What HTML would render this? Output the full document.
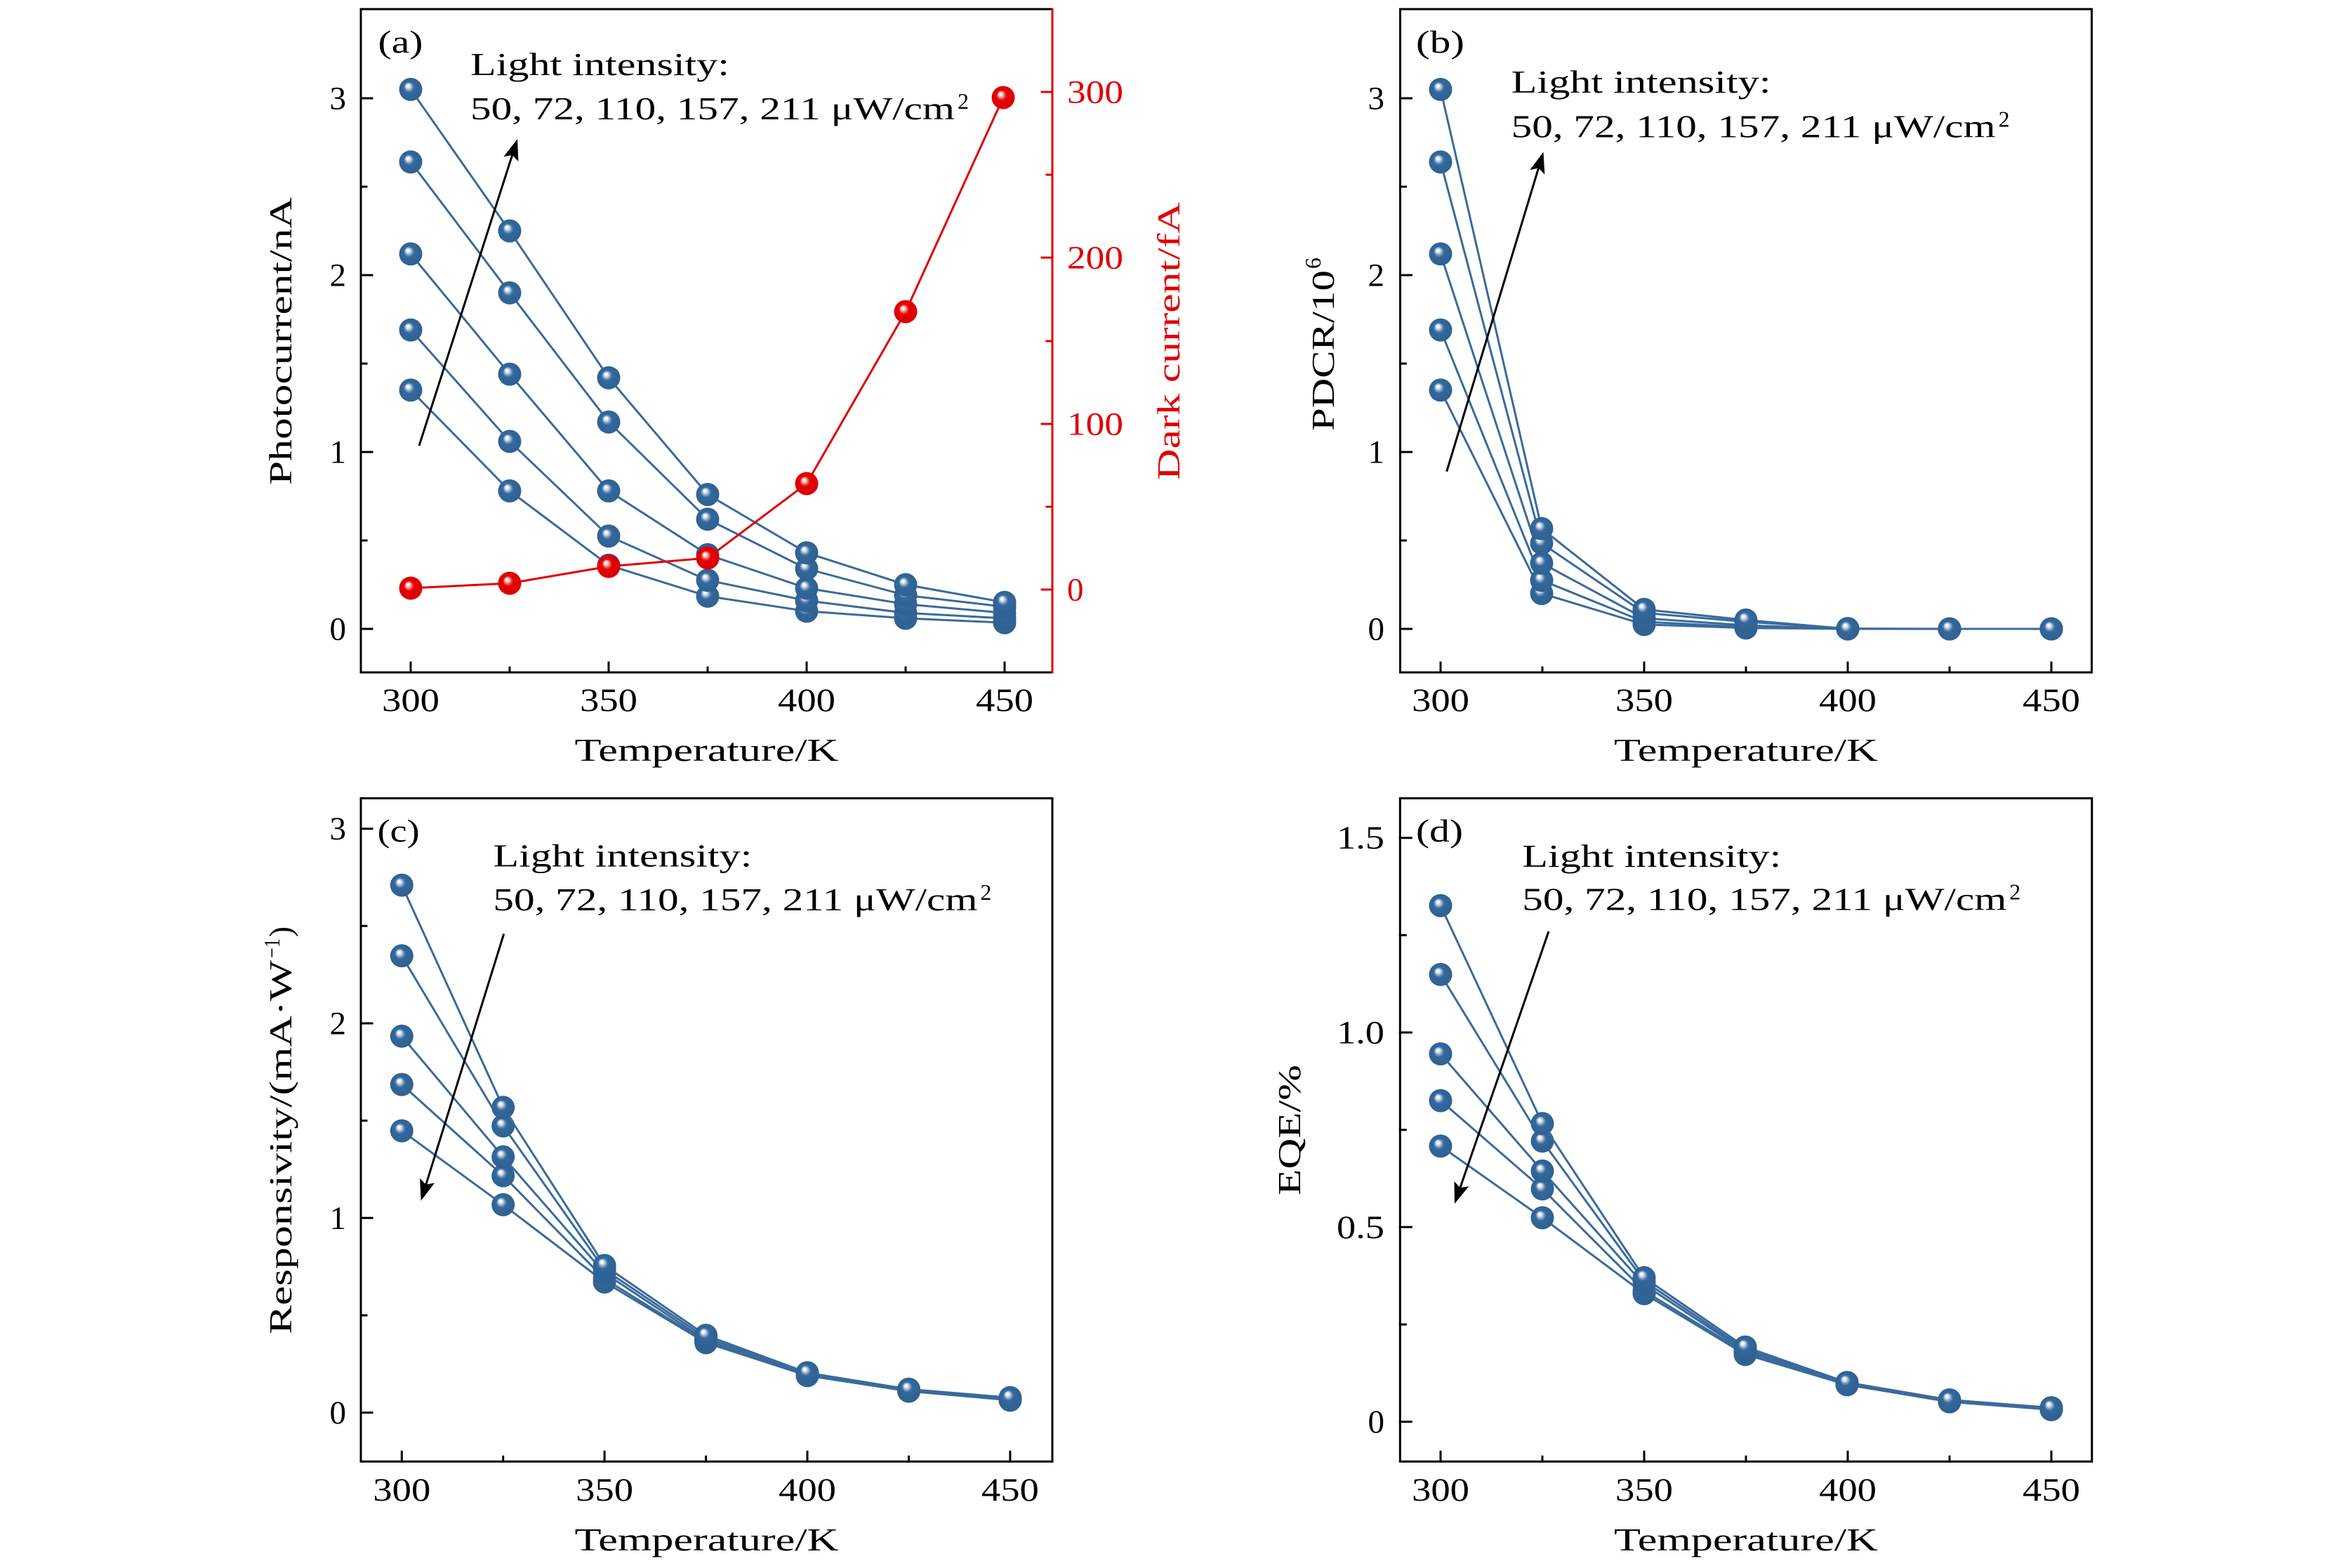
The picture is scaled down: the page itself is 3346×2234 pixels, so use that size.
<!DOCTYPE html>
<html>
<head>
<meta charset="utf-8">
<style>
html,body{margin:0;padding:0;background:#fff;}
svg{display:block;}
text{font-family:"Liberation Serif","DejaVu Serif",serif;}
</style>
</head>
<body>
<svg xmlns="http://www.w3.org/2000/svg" width="3346" height="2234" viewBox="0 0 3346 2234">
<defs>
<radialGradient id="gb" cx="0.5" cy="0.5" r="0.5" fx="0.37" fy="0.33">
<stop offset="0" stop-color="#ffffff"/>
<stop offset="0.1" stop-color="#f4f7fb"/>
<stop offset="0.22" stop-color="#bccfe3"/>
<stop offset="0.34" stop-color="#6f94ba"/>
<stop offset="0.46" stop-color="#34689b"/>
<stop offset="1" stop-color="#2f6193"/>
</radialGradient>
<radialGradient id="gr" cx="0.5" cy="0.5" r="0.5" fx="0.37" fy="0.33">
<stop offset="0" stop-color="#ffffff"/>
<stop offset="0.1" stop-color="#fde8e8"/>
<stop offset="0.22" stop-color="#f5a6a6"/>
<stop offset="0.34" stop-color="#ec4444"/>
<stop offset="0.46" stop-color="#e40000"/>
<stop offset="1" stop-color="#dc0000"/>
</radialGradient>
<marker id="mb" markerUnits="userSpaceOnUse" markerWidth="40" markerHeight="40" refX="20" refY="20" overflow="visible"><circle cx="20" cy="20" r="16.5" fill="url(#gb)"/></marker>
<marker id="mr" markerUnits="userSpaceOnUse" markerWidth="40" markerHeight="40" refX="20" refY="20" overflow="visible"><circle cx="20" cy="20" r="16.5" fill="url(#gr)"/></marker>
<marker id="ah" markerUnits="userSpaceOnUse" markerWidth="40" markerHeight="30" refX="8" refY="12" orient="auto" overflow="visible"><path d="M0,1 L30,12 L0,23 L6,12 Z" fill="#000"/></marker>
</defs>

<!-- ================= Panel (a) ================= -->
<g fill="none" stroke-linejoin="round">
<polyline stroke="#3a6a9c" stroke-width="3" marker-start="url(#mb)" marker-mid="url(#mb)" marker-end="url(#mb)" points="585,555.8 726,699.4 867,805.3 1008,849.4 1149,870.8 1290,880.9 1431,887.2"/>
<polyline stroke="#3a6a9c" stroke-width="3" marker-start="url(#mb)" marker-mid="url(#mb)" marker-end="url(#mb)" points="585,470.1 726,628.9 867,763.7 1008,826.7 1149,855.7 1290,873.3 1431,880.9"/>
<polyline stroke="#3a6a9c" stroke-width="3" marker-start="url(#mb)" marker-mid="url(#mb)" marker-end="url(#mb)" points="585,361.8 726,533.1 867,699.4 1008,790.2 1149,838 1290,860.7 1431,873.3"/>
<polyline stroke="#3a6a9c" stroke-width="3" marker-start="url(#mb)" marker-mid="url(#mb)" marker-end="url(#mb)" points="585,230.7 726,417.2 867,601.2 1008,739.8 1149,810.3 1290,848.1 1431,864.5"/>
<polyline stroke="#3a6a9c" stroke-width="3" marker-start="url(#mb)" marker-mid="url(#mb)" marker-end="url(#mb)" points="585,127.4 726,329 867,538.2 1008,704.5 1149,787.6 1290,833 1431,858.2"/>
<polyline stroke="#e00000" stroke-width="3" marker-start="url(#mr)" marker-mid="url(#mr)" marker-end="url(#mr)" points="585,838 726,831 867,807 1008,795 1149,689 1290,444 1429,139"/>
</g>
<!-- axes a -->
<g stroke="#000" stroke-width="3" fill="none" stroke-linecap="square">
<path d="M1499,13 H514 V958 H1499"/>
<path d="M514,896h16 M514,644h16 M514,392h16 M514,140h16 M514,770h8 M514,518h8 M514,266h8"/>
<path d="M585,958v-14 M867,958v-14 M1149,958v-14 M1431,958v-14 M726,958v-7 M1008,958v-7 M1290,958v-7"/>
</g>
<g stroke="#e00000" stroke-width="3" fill="none" stroke-linecap="square">
<path d="M1499,13 V958"/>
<path d="M1499,840h-15 M1499,604h-15 M1499,367h-15 M1499,131h-15 M1499,722h-8 M1499,486h-8 M1499,249h-8"/>
</g>
<line x1="597" y1="635" x2="730.3" y2="219" stroke="#000" stroke-width="3" marker-end="url(#ah)"/>
<g font-size="47" fill="#000">
<text x="493" y="911.5" text-anchor="end">0</text>
<text x="493" y="659.5" text-anchor="end">1</text>
<text x="493" y="407.5" text-anchor="end">2</text>
<text x="493" y="155.5" text-anchor="end">3</text>
<text x="585" y="1013" text-anchor="middle" textLength="82" lengthAdjust="spacingAndGlyphs">300</text>
<text x="867" y="1013" text-anchor="middle" textLength="82" lengthAdjust="spacingAndGlyphs">350</text>
<text x="1149" y="1013" text-anchor="middle" textLength="82" lengthAdjust="spacingAndGlyphs">400</text>
<text x="1431" y="1013" text-anchor="middle" textLength="82" lengthAdjust="spacingAndGlyphs">450</text>
</g>
<g font-size="47" fill="#e00000">
<text x="1520" y="855.5">0</text>
<text x="1520" y="619.5" textLength="80" lengthAdjust="spacingAndGlyphs">100</text>
<text x="1520" y="382.5" textLength="80" lengthAdjust="spacingAndGlyphs">200</text>
<text x="1520" y="146.5" textLength="80" lengthAdjust="spacingAndGlyphs">300</text>
</g>
<g font-size="46" fill="#000">
<text x="538.5" y="75" textLength="64" lengthAdjust="spacingAndGlyphs">(a)</text>
<text x="670" y="107" textLength="369" lengthAdjust="spacingAndGlyphs">Light intensity:</text>
<text x="670" y="170" textLength="690" lengthAdjust="spacingAndGlyphs">50, 72, 110, 157, 211 μW/cm</text>
<text x="1364" y="155" font-size="32">2</text>
<text x="1006.5" y="1084" text-anchor="middle" textLength="376" lengthAdjust="spacingAndGlyphs">Temperature/K</text>
<text transform="translate(415,486) rotate(-90)" text-anchor="middle" textLength="410" lengthAdjust="spacingAndGlyphs">Photocurrent/nA</text>
<text transform="translate(1680,486) rotate(-90)" text-anchor="middle" textLength="396" lengthAdjust="spacingAndGlyphs" fill="#e00000">Dark current/fA</text>
</g>

<!-- ================= Panel (b) ================= -->
<g fill="none" stroke-linejoin="round">
<polyline stroke="#3a6a9c" stroke-width="3" marker-start="url(#mb)" marker-mid="url(#mb)" marker-end="url(#mb)" points="2052,555.8 2196,845.6 2342,889.7 2487,894.7 2632,896 2777,896 2922,896"/>
<polyline stroke="#3a6a9c" stroke-width="3" marker-start="url(#mb)" marker-mid="url(#mb)" marker-end="url(#mb)" points="2052,470.1 2196,826.7 2342,885.9 2487,893.5 2632,896 2777,896 2922,896"/>
<polyline stroke="#3a6a9c" stroke-width="3" marker-start="url(#mb)" marker-mid="url(#mb)" marker-end="url(#mb)" points="2052,361.8 2196,802.3 2342,880.9 2487,891 2632,896 2777,896 2922,896"/>
<polyline stroke="#3a6a9c" stroke-width="3" marker-start="url(#mb)" marker-mid="url(#mb)" marker-end="url(#mb)" points="2052,230.7 2196,774 2342,873.3 2487,885.9 2632,895.5 2777,896 2922,896"/>
<polyline stroke="#3a6a9c" stroke-width="3" marker-start="url(#mb)" marker-mid="url(#mb)" marker-end="url(#mb)" points="2052,127.4 2196,753.1 2342,868.3 2487,883.4 2632,896 2777,896 2922,896"/>
</g>
<g stroke="#000" stroke-width="3" fill="none" stroke-linecap="square">
<rect x="1994.5" y="13" width="985" height="945"/>
<path d="M1994.5,896h16 M1994.5,644h16 M1994.5,392h16 M1994.5,140h16 M1994.5,770h8 M1994.5,518h8 M1994.5,266h8"/>
<path d="M2052,958v-14 M2342,958v-14 M2632,958v-14 M2922,958v-14 M2197,958v-7 M2487,958v-7 M2777,958v-7"/>
</g>
<line x1="2060.7" y1="671.8" x2="2192.1" y2="237.6" stroke="#000" stroke-width="3" marker-end="url(#ah)"/>
<g font-size="47" fill="#000">
<text x="1972" y="911.5" text-anchor="end">0</text>
<text x="1972" y="659.5" text-anchor="end">1</text>
<text x="1972" y="407.5" text-anchor="end">2</text>
<text x="1972" y="155.5" text-anchor="end">3</text>
<text x="2052" y="1013" text-anchor="middle" textLength="82" lengthAdjust="spacingAndGlyphs">300</text>
<text x="2342" y="1013" text-anchor="middle" textLength="82" lengthAdjust="spacingAndGlyphs">350</text>
<text x="2632" y="1013" text-anchor="middle" textLength="82" lengthAdjust="spacingAndGlyphs">400</text>
<text x="2922" y="1013" text-anchor="middle" textLength="82" lengthAdjust="spacingAndGlyphs">450</text>
</g>
<g font-size="46" fill="#000">
<text x="2017" y="75" textLength="69" lengthAdjust="spacingAndGlyphs">(b)</text>
<text x="2152.6" y="132" textLength="370" lengthAdjust="spacingAndGlyphs">Light intensity:</text>
<text x="2152.6" y="195.4" textLength="690" lengthAdjust="spacingAndGlyphs">50, 72, 110, 157, 211 μW/cm</text>
<text x="2846.6" y="180.4" font-size="32">2</text>
<text x="2487" y="1084" text-anchor="middle" textLength="376" lengthAdjust="spacingAndGlyphs">Temperature/K</text>
<g transform="translate(1900,614) rotate(-90)">
<text x="0" y="0" textLength="229" lengthAdjust="spacingAndGlyphs">PDCR/10</text>
<text x="231" y="-19" font-size="32">6</text>
</g>
</g>

<!-- ================= Panel (c) ================= -->
<g fill="none" stroke-linejoin="round">
<polyline stroke="#3a6a9c" stroke-width="3" marker-start="url(#mb)" marker-mid="url(#mb)" marker-end="url(#mb)" points="572.3,1611.1 716.7,1716.4 861.1,1826.5 1005.6,1913 1150,1959.9 1294.5,1982.1 1438.9,1994.9"/>
<polyline stroke="#3a6a9c" stroke-width="3" marker-start="url(#mb)" marker-mid="url(#mb)" marker-end="url(#mb)" points="572.3,1545.1 716.7,1675.1 861.1,1822.1 1005.6,1911.7 1150,1958.8 1294.5,1981.5 1438.9,1994.3"/>
<polyline stroke="#3a6a9c" stroke-width="3" marker-start="url(#mb)" marker-mid="url(#mb)" marker-end="url(#mb)" points="572.3,1476.3 716.7,1648.2 861.1,1813.8 1005.6,1909.7 1150,1958 1294.5,1981 1438.9,1993.2"/>
<polyline stroke="#3a6a9c" stroke-width="3" marker-start="url(#mb)" marker-mid="url(#mb)" marker-end="url(#mb)" points="572.3,1361.8 716.7,1604.1 861.1,1808.8 1005.6,1906.1 1150,1957.1 1294.5,1980.2 1438.9,1992.6"/>
<polyline stroke="#3a6a9c" stroke-width="3" marker-start="url(#mb)" marker-mid="url(#mb)" marker-end="url(#mb)" points="572.3,1261.1 716.7,1577.8 861.1,1803 1005.6,1902.5 1150,1955.8 1294.5,1979.3 1438.9,1991.3"/>
</g>
<g stroke="#000" stroke-width="3" fill="none" stroke-linecap="square">
<rect x="514" y="1137.3" width="985" height="945"/>
<path d="M514,2012.6h16 M514,1735.3h16 M514,1458h16 M514,1180.7h16 M514,1874h8 M514,1596.6h8 M514,1319.3h8"/>
<path d="M572.3,2082.3v-14 M861.1,2082.3v-14 M1150,2082.3v-14 M1438.9,2082.3v-14 M716.7,2082.3v-7 M1005.6,2082.3v-7 M1294.5,2082.3v-7"/>
</g>
<line x1="717.7" y1="1330.5" x2="606.2" y2="1689.7" stroke="#000" stroke-width="3" marker-end="url(#ah)"/>
<g font-size="47" fill="#000">
<text x="493" y="2028" text-anchor="end">0</text>
<text x="493" y="1750.8" text-anchor="end">1</text>
<text x="493" y="1473.5" text-anchor="end">2</text>
<text x="493" y="1196.2" text-anchor="end">3</text>
<text x="572.3" y="2138" text-anchor="middle" textLength="82" lengthAdjust="spacingAndGlyphs">300</text>
<text x="861.1" y="2138" text-anchor="middle" textLength="82" lengthAdjust="spacingAndGlyphs">350</text>
<text x="1150" y="2138" text-anchor="middle" textLength="82" lengthAdjust="spacingAndGlyphs">400</text>
<text x="1438.9" y="2138" text-anchor="middle" textLength="82" lengthAdjust="spacingAndGlyphs">450</text>
</g>
<g font-size="46" fill="#000">
<text x="537.7" y="1199" textLength="60" lengthAdjust="spacingAndGlyphs">(c)</text>
<text x="702.4" y="1234.6" textLength="369" lengthAdjust="spacingAndGlyphs">Light intensity:</text>
<text x="702.4" y="1297.2" textLength="690" lengthAdjust="spacingAndGlyphs">50, 72, 110, 157, 211 μW/cm</text>
<text x="1396.4" y="1282.2" font-size="32">2</text>
<text x="1006.5" y="2209" text-anchor="middle" textLength="376" lengthAdjust="spacingAndGlyphs">Temperature/K</text>
<g transform="translate(415,1901) rotate(-90)">
<text x="0" y="0" textLength="533" lengthAdjust="spacingAndGlyphs">Responsivity/(mA·W</text>
<text x="536" y="-17" font-size="32" textLength="28" lengthAdjust="spacingAndGlyphs">−1</text>
<text x="566" y="0" textLength="15" lengthAdjust="spacingAndGlyphs">)</text>
</g>
</g>

<!-- ================= Panel (d) ================= -->
<g fill="none" stroke-linejoin="round">
<polyline stroke="#3a6a9c" stroke-width="3" marker-start="url(#mb)" marker-mid="url(#mb)" marker-end="url(#mb)" points="2052,1632.9 2197,1735 2342,1843.1 2486,1929.7 2631,1972.9 2777,1997.3 2922,2008.4"/>
<polyline stroke="#3a6a9c" stroke-width="3" marker-start="url(#mb)" marker-mid="url(#mb)" marker-end="url(#mb)" points="2052,1568.1 2197,1693.9 2342,1839.2 2486,1927.4 2631,1972.4 2777,1996.8 2922,2007.9"/>
<polyline stroke="#3a6a9c" stroke-width="3" marker-start="url(#mb)" marker-mid="url(#mb)" marker-end="url(#mb)" points="2052,1501.5 2197,1668.4 2342,1830.4 2486,1925.2 2631,1971.8 2777,1996.2 2922,2007.3"/>
<polyline stroke="#3a6a9c" stroke-width="3" marker-start="url(#mb)" marker-mid="url(#mb)" marker-end="url(#mb)" points="2052,1388.4 2197,1625.7 2342,1825.4 2486,1922.4 2631,1970.7 2777,1995.6 2922,2006.7"/>
<polyline stroke="#3a6a9c" stroke-width="3" marker-start="url(#mb)" marker-mid="url(#mb)" marker-end="url(#mb)" points="2052,1290.2 2197,1600.8 2342,1820.4 2486,1919.1 2631,1969.6 2777,1994.5 2922,2005.6"/>
</g>
<g stroke="#000" stroke-width="3" fill="none" stroke-linecap="square">
<rect x="1994.3" y="1137.3" width="985.5" height="945"/>
<path d="M1994.3,2025.6h16 M1994.3,1748.3h16 M1994.3,1471h16 M1994.3,1193.7h16 M1994.3,1887h8 M1994.3,1609.7h8 M1994.3,1332.4h8"/>
<path d="M2052,2082.3v-14 M2342,2082.3v-14 M2632,2082.3v-14 M2922,2082.3v-14 M2197,2082.3v-7 M2487,2082.3v-7 M2777,2082.3v-7"/>
</g>
<line x1="2206" y1="1327" x2="2079.2" y2="1694.2" stroke="#000" stroke-width="3" marker-end="url(#ah)"/>
<g font-size="47" fill="#000">
<text x="1972" y="2041" text-anchor="end">0</text>
<text x="1972" y="1763.8" text-anchor="end" textLength="68" lengthAdjust="spacingAndGlyphs">0.5</text>
<text x="1972" y="1486.5" text-anchor="end" textLength="68" lengthAdjust="spacingAndGlyphs">1.0</text>
<text x="1972" y="1209.2" text-anchor="end" textLength="68" lengthAdjust="spacingAndGlyphs">1.5</text>
<text x="2052" y="2138" text-anchor="middle" textLength="82" lengthAdjust="spacingAndGlyphs">300</text>
<text x="2342" y="2138" text-anchor="middle" textLength="82" lengthAdjust="spacingAndGlyphs">350</text>
<text x="2632" y="2138" text-anchor="middle" textLength="82" lengthAdjust="spacingAndGlyphs">400</text>
<text x="2922" y="2138" text-anchor="middle" textLength="82" lengthAdjust="spacingAndGlyphs">450</text>
</g>
<g font-size="46" fill="#000">
<text x="2017" y="1199" textLength="67" lengthAdjust="spacingAndGlyphs">(d)</text>
<text x="2168.3" y="1235" textLength="369" lengthAdjust="spacingAndGlyphs">Light intensity:</text>
<text x="2168.3" y="1296.7" textLength="690" lengthAdjust="spacingAndGlyphs">50, 72, 110, 157, 211 μW/cm</text>
<text x="2862.3" y="1281.7" font-size="32">2</text>
<text x="2487" y="2209" text-anchor="middle" textLength="376" lengthAdjust="spacingAndGlyphs">Temperature/K</text>
<text transform="translate(1852,1610) rotate(-90)" text-anchor="middle" textLength="186" lengthAdjust="spacingAndGlyphs">EQE/%</text>
</g>
</svg>
</body>
</html>
